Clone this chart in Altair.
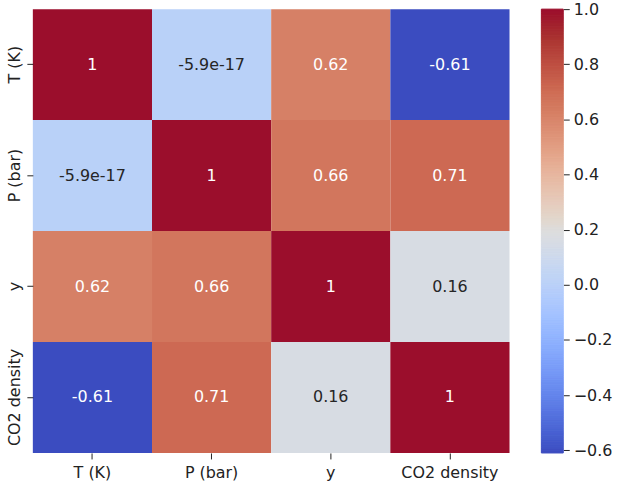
import altair as alt
import numpy as np
import pandas as pd

# Variables and their pairwise correlation coefficients
variables = ["T (K)", "P (bar)", "y", "CO2 density"]
corr_rows = [
    [1.0, -5.9e-17, 0.62, -0.61],
    [-5.9e-17, 1.0, 0.66, 0.71],
    [0.62, 0.66, 1.0, 0.16],
    [-0.61, 0.71, 0.16, 1.0],
]

# Colour range and colour-bar ticks
vmin, vmax = -0.61, 1.0
cbar_ticks = [-0.6, -0.4, -0.2, 0.0, 0.2, 0.4, 0.6, 0.8, 1.0]

# coolwarm diverging palette stops (warm end slightly deepened)
coolwarm = [
    "#3b4cc0", "#445acc", "#4d68d7", "#5775e1", "#6282ea", "#6c8ef1",
    "#779af7", "#82a5fb", "#8db0fe", "#98b9ff", "#a3c2ff", "#aec9fd",
    "#b8d0f9", "#c2d5f4", "#ccd9ee", "#d5dbe6", "#dddddd", "#e2d6cb",
    "#e6ccbd", "#e7c2ae", "#e7b7a0", "#e6ac92", "#e29f84", "#de9277",
    "#d9866b", "#d3795f", "#cf6d55", "#c75e4b", "#be5042", "#b44139",
    "#a93230", "#a21f2d", "#9b0e2c",
]
stops = np.linspace(vmin, vmax, len(coolwarm)).tolist()
color_scale = alt.Scale(domain=stops, range=coolwarm, interpolate="rgb")

records = []
for i, row_name in enumerate(variables):
    for j, col_name in enumerate(variables):
        v = corr_rows[i][j]
        records.append({"row": row_name, "col": col_name, "value": v,
                        "label": f"{v:.2g}"})
df = pd.DataFrame(records)

FONT = "DejaVu Sans"
INK = "#222222"

base = alt.Chart(df).encode(
    x=alt.X("col:N", sort=variables, title=None,
            axis=alt.Axis(labelAngle=0, labelFontSize=16, labelFont=FONT,
                          labelColor=INK, tickColor=INK, tickSize=6,
                          labelPadding=6, domain=False)),
    y=alt.Y("row:N", sort=variables, title=None,
            axis=alt.Axis(labelAngle=270, labelFontSize=16, labelFont=FONT,
                          labelColor=INK, tickColor=INK, tickSize=6,
                          labelPadding=4, domain=False)),
)

cells = base.mark_rect().encode(
    color=alt.Color("value:Q", scale=color_scale, legend=None)
)

labels = base.mark_text(font=FONT, fontSize=16).encode(
    text="label:N",
    color=alt.condition(
        "datum.value > 0.45 || datum.value < -0.2",
        alt.value("white"), alt.value("#262626")),
)

heatmap = (cells + labels).properties(width=479, height=446)

# Colour bar built from thin stacked bands
edges = np.linspace(vmin, vmax, 201)
bar_df = pd.DataFrame({"lo": edges[:-1], "hi": edges[1:],
                       "mid": (edges[:-1] + edges[1:]) / 2})

colorbar = alt.Chart(bar_df).mark_rect(strokeWidth=1).encode(
    y=alt.Y("lo:Q", scale=alt.Scale(domain=[vmin, vmax], nice=False, zero=False),
            title=None,
            axis=alt.Axis(orient="right", values=cbar_ticks, format=".1f",
                          labelFontSize=16, labelFont=FONT, labelColor=INK,
                          tickColor=INK, tickSize=6, labelPadding=4,
                          domain=False, grid=False)),
    y2="hi:Q",
    color=alt.Color("mid:Q", scale=color_scale, legend=None),
    stroke=alt.Color("mid:Q", scale=color_scale, legend=None),
).properties(width=22, height=446)

chart = alt.hconcat(heatmap, colorbar, spacing=31).resolve_scale(
    x="independent", y="independent", color="independent", stroke="independent"
).properties(
    padding={"left": 7, "top": 0, "right": 5, "bottom": 0},
    background="white",
).configure_view(stroke=None)

chart.save("out.html", embed_options={"renderer": "svg", "actions": False})
